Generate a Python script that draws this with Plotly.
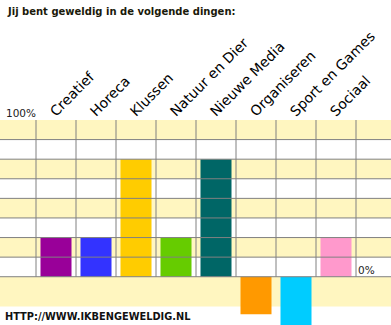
import plotly.graph_objects as go

# Scores per interest area (percent)
categories = ["Creatief", "Horeca", "Klussen", "Natuur en Dier", "Nieuwe Media",
              "Organiseren", "Sport en Games", "Sociaal"]
scores = [25, 25, 75, 25, 75, -24, -40, 25]
bar_colors = ["#990099", "#3333FF", "#FFCC00", "#66CC00", "#006666",
              "#FF9900", "#00CCFF", "#FF99CC"]

title_text = "Jij bent geweldig in de volgende dingen:"
top_label = "100%"
zero_label = "0%"
footer_text = "HTTP://WWW.IKBENGEWELDIG.NL"

band_color = "#FFF6C0"
line_color = "#808080"
step = 12.5

fig = go.Figure(go.Bar(
    x=categories, y=scores, width=0.775,
    marker=dict(color=bar_colors, line=dict(width=0)),
    hoverinfo="skip",
))

shapes = []
# alternating horizontal bands, starting yellow at the top
for k in range(8):
    top = 100 - k * step
    if k % 2 == 0:
        shapes.append(dict(type="rect", xref="paper", yref="y", x0=0, x1=1,
                           y0=top - step, y1=top, fillcolor=band_color,
                           line=dict(width=0), layer="below"))
# band under the zero line
shapes.append(dict(type="rect", xref="paper", yref="y", x0=0, x1=1,
                   y0=-19, y1=0, fillcolor=band_color,
                   line=dict(width=0), layer="below"))
# horizontal grid lines over the bars
for k in range(8):
    yv = k * step
    shapes.append(dict(type="line", xref="paper", yref="y", x0=0, x1=1,
                       y0=yv, y1=yv, line=dict(color=line_color, width=1),
                       layer="above"))
# vertical lines on the category boundaries
for i in range(len(categories) + 1):
    xv = i - 0.5
    shapes.append(dict(type="line", xref="x", yref="y", x0=xv, x1=xv,
                       y0=0, y1=100, line=dict(color=line_color, width=1),
                       layer="above"))

annotations = [
    dict(text=title_text, xref="paper", yref="paper", x=5 / 391, y=1.527,
         xanchor="left", yanchor="middle", showarrow=False,
         font=dict(family="DejaVu Sans", size=10, color="#1a1a0a", weight="bold")),
    dict(text=top_label, xref="paper", yref="y", x=4 / 391, y=100,
         xanchor="left", yanchor="bottom", showarrow=False, yshift=-1,
         font=dict(family="DejaVu Sans", size=10.5, color="#222222")),
    dict(text=zero_label, xref="paper", yref="y", x=356 / 391, y=0,
         xanchor="left", yanchor="bottom", showarrow=False, yshift=-1,
         font=dict(family="DejaVu Sans", size=10.5, color="#222222")),
    dict(text=footer_text, xref="paper", yref="paper", x=3 / 391, y=0.0405,
         xanchor="left", yanchor="middle", showarrow=False,
         font=dict(family="DejaVu Sans", size=9.8, color="#111111", weight="bold")),
]

fig.update_layout(
    width=391, height=325,
    margin=dict(l=0, r=0, t=120, b=0, pad=0),
    paper_bgcolor="white", plot_bgcolor="white",
    showlegend=False,
    shapes=shapes, annotations=annotations,
    xaxis=dict(type="category", side="top", tickangle=-45,
               range=[-1.4, 8.375], showgrid=False, showline=False,
               zeroline=False, ticks="", fixedrange=True,
               ticklabelshift=-5, ticklabelstandoff=-3,
               tickfont=dict(family="DejaVu Sans", size=14, color="#000000")),
    yaxis=dict(range=[-30.8, 100], showgrid=False, showline=False,
               zeroline=False, showticklabels=False, ticks="", fixedrange=True),
)

fig.write_html("out.html")
